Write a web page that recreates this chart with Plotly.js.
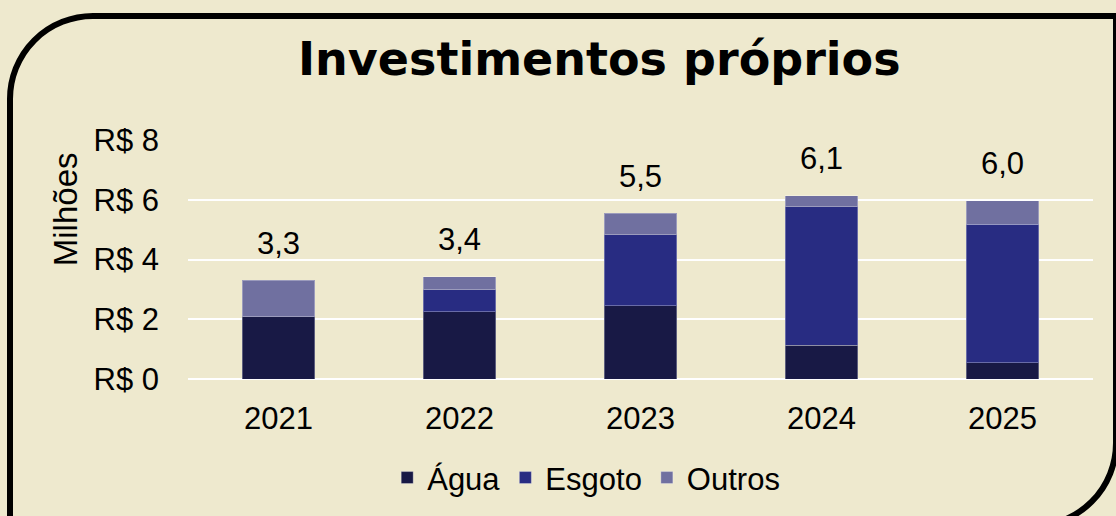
<!DOCTYPE html>
<html>
<head>
<meta charset="utf-8">
<script src="https://cdn.plot.ly/plotly-3.0.1.min.js"></script>
<style>
  html, body { margin: 0; padding: 0; background: #EEE9CE; overflow: hidden; }
  #wrap { position: relative; width: 1116px; height: 516px; }
  #chart { position: absolute; left: 0; top: 0; width: 1116px; height: 516px; }
  #frame {
    position: absolute; left: 7px; top: 13px; width: 1100px; height: 504px;
    border: 6px solid #000; border-top-left-radius: 86px; border-bottom-right-radius: 86px;
    pointer-events: none;
  }
</style>
</head>
<body>
<div id="wrap">
  <div id="chart"></div>
  <div id="frame"></div>
</div>
<script>
const years = ['2021', '2022', '2023', '2024', '2025'];
const agua = [2.08, 2.25, 2.45, 1.13, 0.55];
const esgoto = [0.00, 0.74, 2.38, 4.63, 4.63];
const outros = [1.23, 0.44, 0.71, 0.37, 0.79];
const seriesNames = ['Água', 'Esgoto', 'Outros'];
const yTicks = [0, 2, 4, 6, 8];

const colors = ['#181945', '#282C82', '#7070A0'];
const font = 'Liberation Sans, Arial, sans-serif';

const totals = years.map((_, i) => agua[i] + esgoto[i] + outros[i]);

const mk = (name, vals, color) => ({
  type: 'bar', name: name, x: years, y: vals,
  marker: { color: color, line: { color: 'rgba(255,255,255,0.3)', width: 1 } },
  hoverinfo: 'skip'
});

const data = [
  mk(seriesNames[0], agua, colors[0]),
  mk(seriesNames[1], esgoto, colors[1]),
  mk(seriesNames[2], outros, colors[2])
];

const annotations = years.map((yr, i) => ({
  x: i, y: totals[i], xref: 'x', yref: 'y',
  text: totals[i].toFixed(1).replace('.', ','),
  showarrow: false, yanchor: 'middle', yshift: 37,
  font: { family: font, size: 31, color: '#000' }
}));
annotations.push({
  text: 'Milhões', xref: 'paper', yref: 'paper', x: -0.136, y: 0.71,
  textangle: -90, showarrow: false, xanchor: 'center', yanchor: 'middle',
  font: { family: font, size: 33, color: '#000' }
});

const layout = {
  width: 1116, height: 516,
  paper_bgcolor: '#EEE9CE', plot_bgcolor: '#EEE9CE',
  margin: { l: 188, r: 23, t: 140, b: 136, pad: 0 },
  barmode: 'stack', bargap: 0.6,
  title: {
    text: 'Investimentos próprios', x: 0.537, xanchor: 'center', xref: 'container',
    y: 0.885, yanchor: 'middle', yref: 'container',
    font: { family: 'DejaVu Sans, sans-serif', size: 46, weight: 'bold', color: '#000' }
  },
  xaxis: {
    type: 'category', categoryarray: years, range: [-0.5, 4.5], autorange: false,
    tickfont: { family: font, size: 31, color: '#000' },
    showgrid: false, zeroline: false, showline: false, ticks: '',
    ticklabelstandoff: 18
  },
  yaxis: {
    range: [0, 8], autorange: false, tickvals: yTicks, ticktext: yTicks.map(v => 'R$ ' + v),
    tickfont: { family: font, size: 31, color: '#000' },
    showgrid: true, gridcolor: '#FFFFFF', gridwidth: 2,
    zeroline: true, zerolinecolor: '#FFFFFF', zerolinewidth: 2,
    showline: false, ticks: '', ticklabelstandoff: 28
  },
  showlegend: true,
  legend: {
    orientation: 'h', x: 0.44, xanchor: 'center', xref: 'paper',
    y: -0.408, yanchor: 'middle', yref: 'paper',
    font: { family: font, size: 31, color: '#000' },
    bgcolor: 'rgba(0,0,0,0)', traceorder: 'normal', itemwidth: 30
  },
  annotations: annotations
};

Plotly.newPlot('chart', data, layout, { displayModeBar: false, staticPlot: true });
</script>
</body>
</html>
